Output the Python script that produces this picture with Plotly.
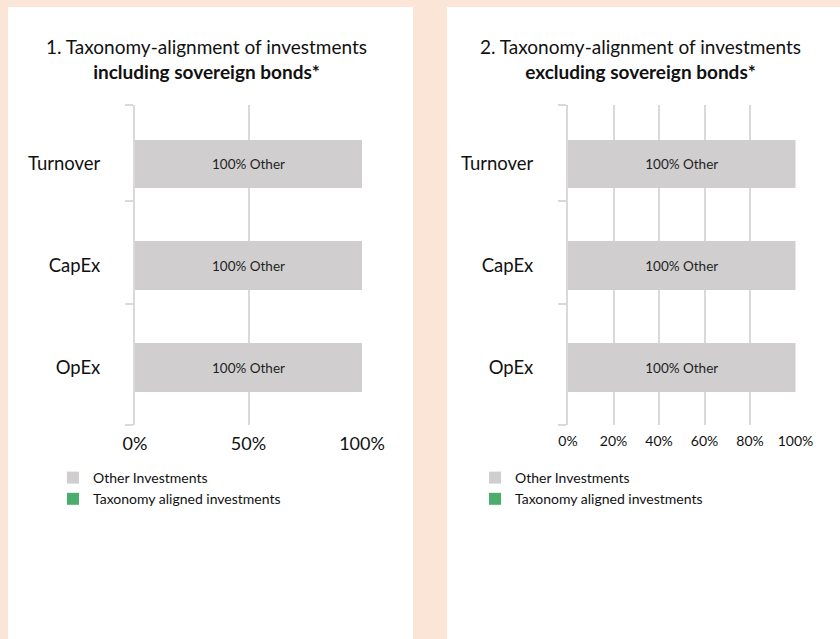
import plotly.graph_objects as go

# ---- data ----
categories = ["Turnover", "CapEx", "OpEx"]
aligned_incl = [0, 0, 0]
other_incl = [100, 100, 100]
aligned_excl = [0, 0, 0]
other_excl = [100, 100, 100]

titles = [
    "1. Taxonomy-alignment of investments<br><b>including sovereign bonds*</b>",
    "2. Taxonomy-alignment of investments<br><b>excluding sovereign bonds*</b>",
]
legend_names = ["Taxonomy aligned investments", "Other Investments"]
ticks_left = [0, 50, 100]
ticks_right = [0, 20, 40, 60, 80, 100]

GREY = "#d0cece"
GREEN = "#4aad6a"
PEACH = "#fbe5d6"
GRID = "#d9d9d9"
TXT = "#111111"
FONT = "Lato"

W, H = 840, 639
ypos = list(range(len(categories)))[::-1]  # Turnover on top

fig = go.Figure()

panels = [
    ("x", "y", "legend", aligned_incl, other_incl),
    ("x2", "y2", "legend2", aligned_excl, other_excl),
]
for xa, ya, lg, aligned, other in panels:
    fig.add_trace(go.Bar(
        y=ypos, x=aligned, orientation="h", width=0.48,
        marker=dict(color=GREEN, line=dict(width=0)),
        name=legend_names[0], legend=lg, legendrank=2,
        xaxis=xa, yaxis=ya, hoverinfo="skip",
    ))
    fig.add_trace(go.Bar(
        y=ypos, x=other, orientation="h", width=0.48,
        marker=dict(color=GREY, line=dict(width=0)),
        text=[f"{v:.0f}% Other" for v in other],
        textposition="inside", insidetextanchor="middle",
        textfont=dict(family=FONT, size=13.5, color="#1f1f1f"),
        name=legend_names[1], legend=lg, legendrank=1,
        xaxis=xa, yaxis=ya, hoverinfo="skip",
    ))

# white panels on the peach background
for x0, x1 in [(8, 413), (447, 840)]:
    fig.add_shape(type="rect", xref="paper", yref="paper",
                  x0=x0 / W, x1=x1 / W, y0=0, y1=1 - 7 / H,
                  fillcolor="white", line=dict(width=0), layer="below")

for tx, cx in zip(titles, [206, 640]):
    fig.add_annotation(text=tx, xref="paper", yref="paper",
                       x=cx / W, y=1 - 59 / H, xanchor="center", yanchor="middle",
                       showarrow=False, font=dict(family=FONT, size=19, color=TXT))

ydom = [1 - 425 / H, 1 - 105 / H]
yaxis_common = dict(
    domain=ydom, range=[-0.565, 2.58], automargin=False,
    tickmode="array", tickvals=ypos, ticktext=categories,
    ticks="", ticklabelstandoff=29,
    tickfont=dict(family=FONT, size=18.5, color=TXT),
    showgrid=False, zeroline=False,
    showline=True, linecolor=GRID, linewidth=2,
    minor=dict(tickmode="array", tickvals=[-0.565, 0.62, 1.64, 2.58],
               ticks="outside", ticklen=8, tickcolor=GRID, tickwidth=2),
)
xaxis_common = dict(
    range=[0, 100], ticks="", tickmode="array", automargin=False,
    showgrid=True, gridcolor=GRID, gridwidth=2,
    zeroline=False, showline=False, ticklabelstandoff=6,
)
legend_common = dict(
    xanchor="left", yanchor="top", y=1 - 462 / H,
    bgcolor="rgba(0,0,0,0)", traceorder="normal", itemwidth=30,
    font=dict(family=FONT, size=14, color=TXT),
)

fig.update_layout(
    width=W, height=H, autosize=False,
    margin=dict(l=0, r=0, t=0, b=0, pad=0),
    paper_bgcolor=PEACH, plot_bgcolor="white",
    barmode="stack", showlegend=True,
    font=dict(family=FONT, color=TXT),
    xaxis=dict(domain=[135 / W, 362 / W], anchor="y", tickvals=ticks_left,
               ticktext=[f"{v}%" for v in ticks_left],
               tickfont=dict(family=FONT, size=18, color=TXT), **xaxis_common),
    xaxis2=dict(domain=[568 / W, 795.5 / W], anchor="y2", tickvals=ticks_right,
                ticktext=[f"{v}%" for v in ticks_right],
                tickfont=dict(family=FONT, size=14, color=TXT), **xaxis_common),
    yaxis=dict(anchor="x", **yaxis_common),
    yaxis2=dict(anchor="x2", **yaxis_common),
    legend=dict(x=53 / W, **legend_common),
    legend2=dict(x=475 / W, **legend_common),
)

# page margin off so the 840x639 figure fills the window
fig.write_html("out.html", config={"displayModeBar": False},
               post_script="document.body.style.margin='0';")
